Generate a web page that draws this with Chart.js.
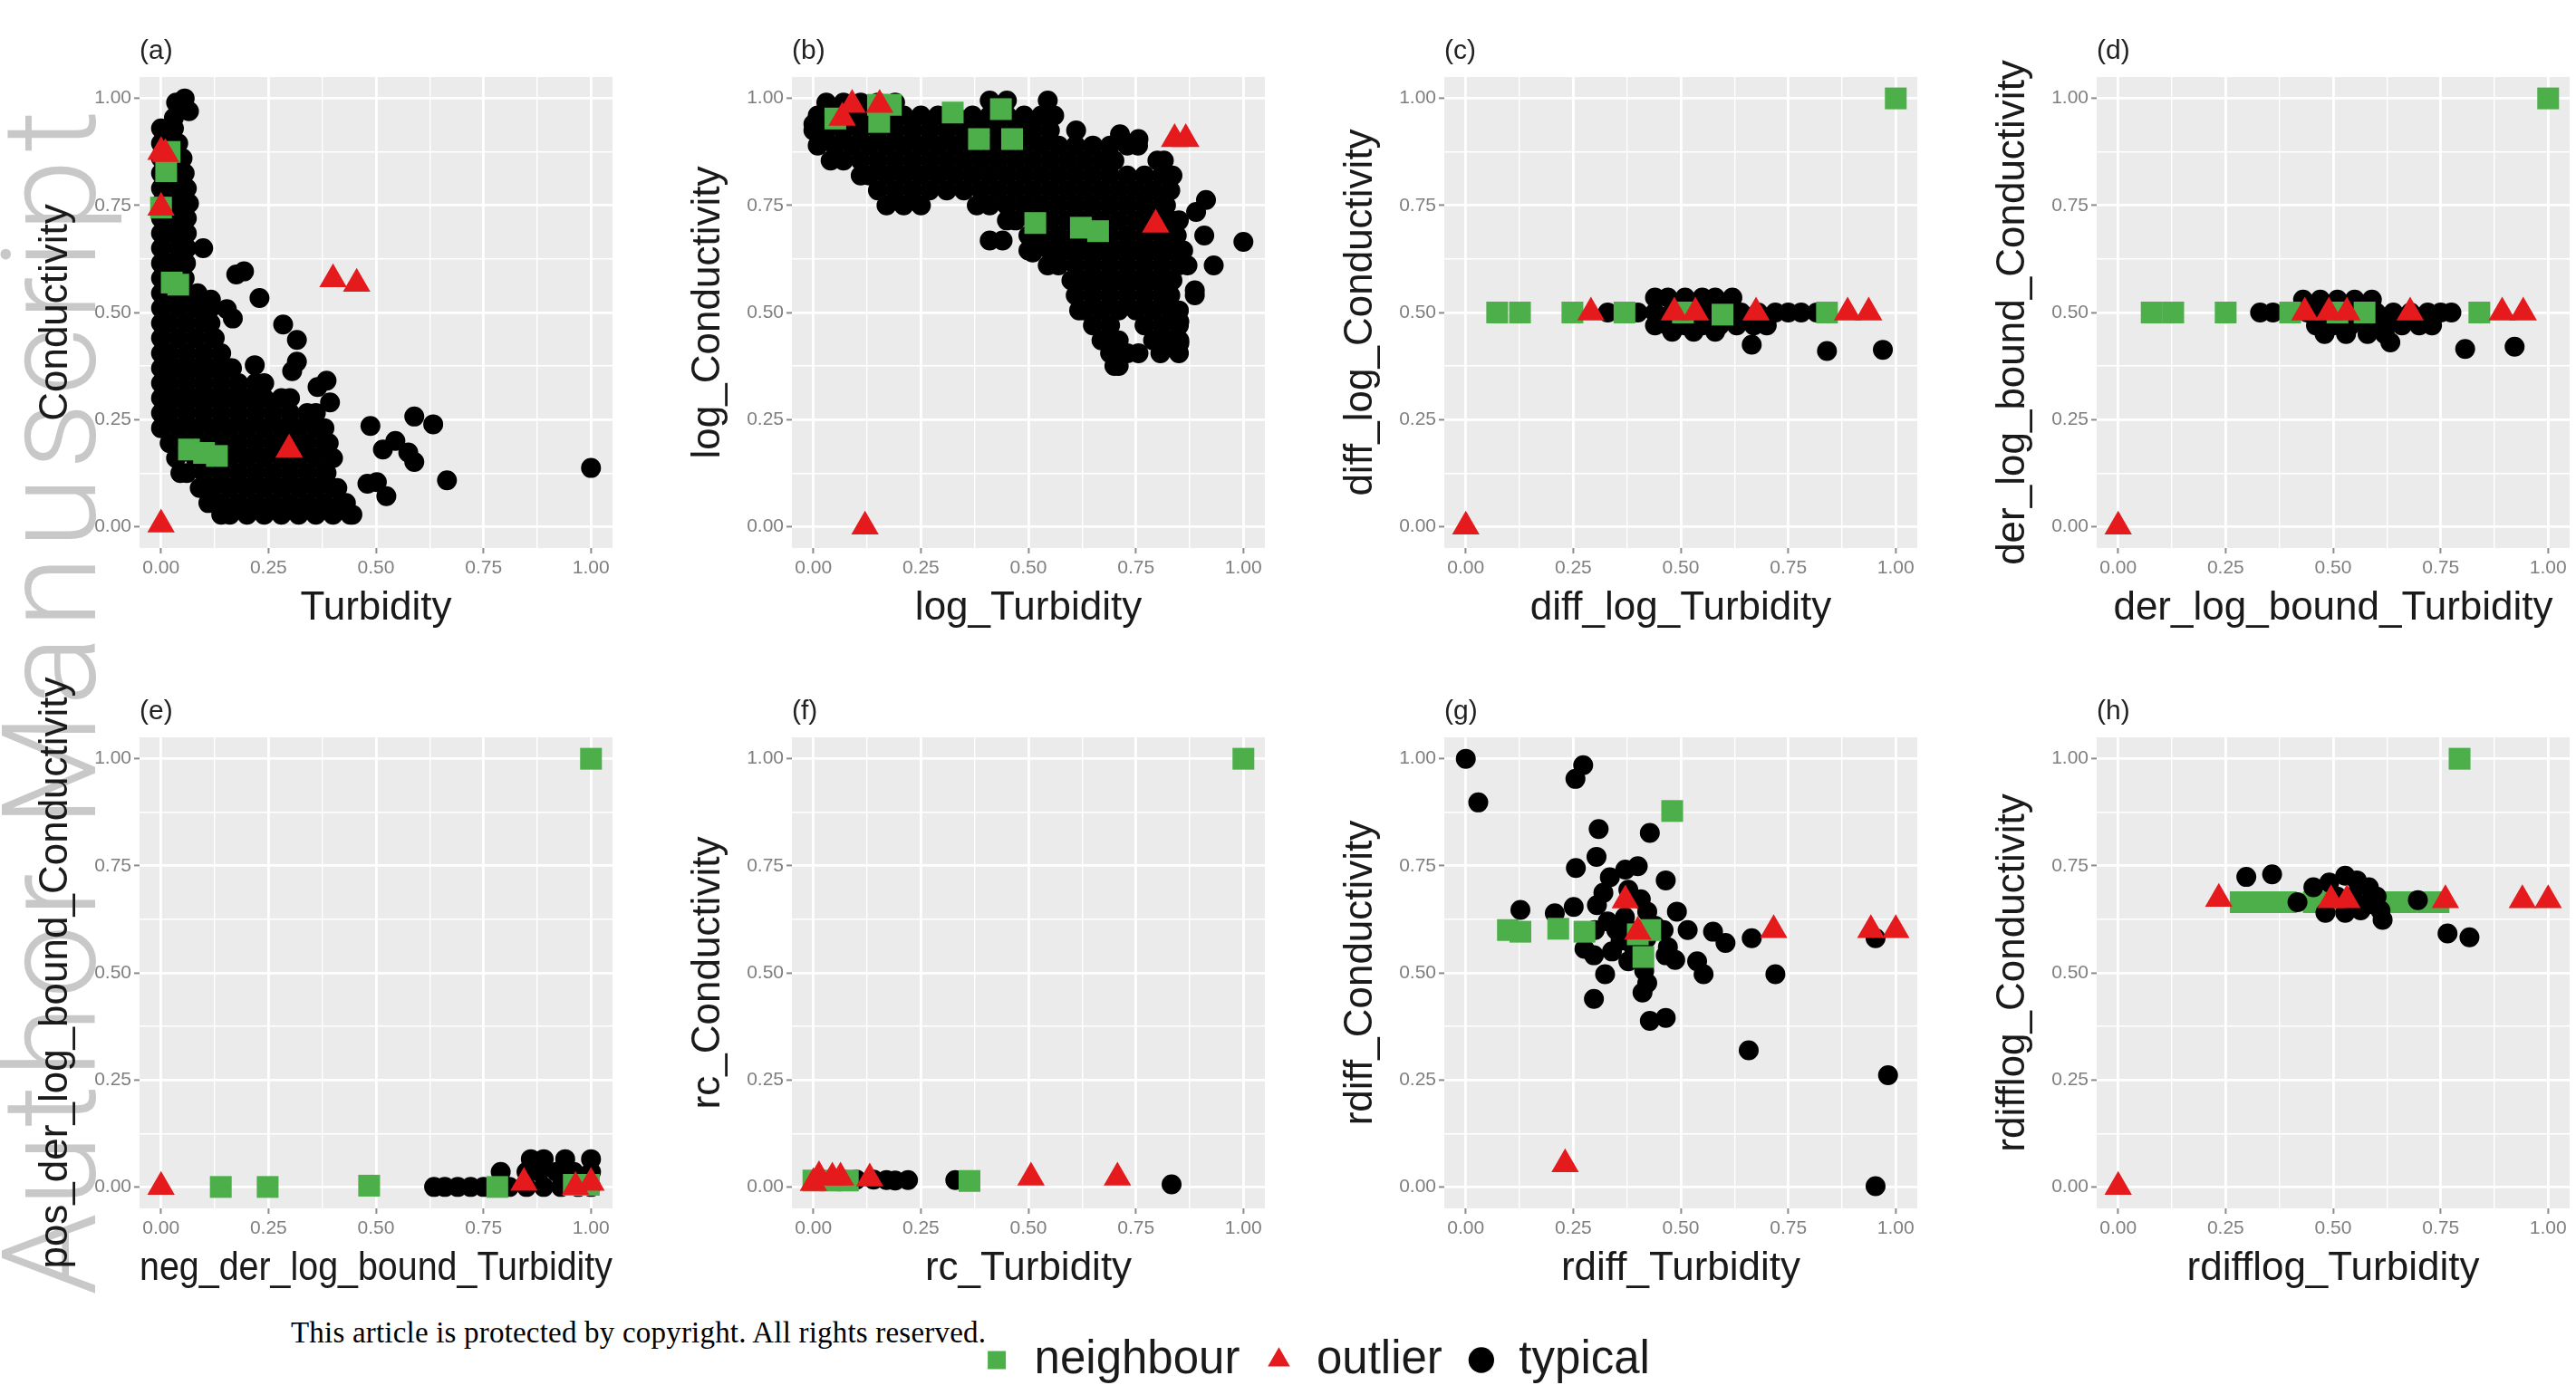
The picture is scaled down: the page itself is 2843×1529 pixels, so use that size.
<!DOCTYPE html>
<html>
<head>
<meta charset="utf-8">
<title>Turbidity / Conductivity feature spaces</title>
<script src="https://cdn.jsdelivr.net/npm/chart.js@4.4.1/dist/chart.umd.min.js"></script>
<style>
  html, body { margin: 0; padding: 0; background: #fff; }
  body { width: 2843px; height: 1529px; position: relative; overflow: hidden; }
  canvas { position: absolute; }
  #watermark { position: absolute; left: 0; top: 0; white-space: nowrap;
    font-family: Roboto, 'Liberation Sans', sans-serif; font-weight: 300;
    font-size: 145px; line-height: 145px; letter-spacing: 8px; color: #c8c8c8;
    transform-origin: 0 0; transform: translate(-17px, 1430px) rotate(-90deg); }
  #footer { position: absolute; left: 321px; top: 1455px; white-space: nowrap;
    font-family: 'Liberation Serif', 'Times New Roman', serif; font-size: 33px; line-height: 33px;
    letter-spacing: 0.2px; color: #000; }
</style>
</head>
<body>
<div id="watermark">Author Manuscript</div>
<div id="footer">This article is protected by copyright. All rights reserved.</div>
<canvas id="c_a" width="700" height="700"></canvas>
<canvas id="c_b" width="700" height="700"></canvas>
<canvas id="c_c" width="700" height="700"></canvas>
<canvas id="c_d" width="700" height="700"></canvas>
<canvas id="c_e" width="700" height="700"></canvas>
<canvas id="c_f" width="700" height="700"></canvas>
<canvas id="c_g" width="700" height="700"></canvas>
<canvas id="c_h" width="700" height="700"></canvas>
<canvas id="legend" width="2843" height="300"></canvas>
<script>
// ---------------------------------- ticks
var majorTicks = [0, 0.25, 0.5, 0.75, 1];
var minorTicks = [0.125, 0.375, 0.625, 0.875];

// ---------------------------------- (a) Turbidity vs Conductivity
// rows: [y, x, x, ...]
var aTypicalRows = [
  [0.93, 0, 0.03],
  [0.895, 0, 0.02, 0.04],
  [0.86, 0, 0.04, 0.05],
  [0.825, 0, 0.02, 0.055],
  [0.79, 0, 0.04, 0.06],
  [0.755, 0, 0.02, 0.06, 0.065],
  [0.72, 0, 0.04, 0.06],
  [0.685, 0, 0.02, 0.06],
  [0.65, 0, 0.04, 0.06, 0.098],
  [0.615, 0, 0.02, 0.058],
  [0.58, 0, 0.04, 0.055],
  [0.545, 0, 0.02, 0.06, 0.085],
  [0.51, 0, 0.04, 0.08, 0.115],
  [0.475, 0, 0.02, 0.06, 0.10, 0.115],
  [0.44, 0, 0.04, 0.08, 0.12, 0.125],
  [0.405, 0, 0.02, 0.06, 0.10, 0.14],
  [0.37, 0, 0.04, 0.08, 0.12, 0.16, 0.165],
  [0.335, 0, 0.02, 0.06, 0.10, 0.14, 0.18, 0.22, 0.24],
  [0.30, 0, 0.04, 0.08, 0.12, 0.16, 0.20, 0.24, 0.28, 0.30],
  [0.265, 0, 0.02, 0.06, 0.10, 0.14, 0.18, 0.22, 0.26, 0.30, 0.34, 0.36],
  [0.23, 0, 0.04, 0.08, 0.12, 0.16, 0.20, 0.24, 0.28, 0.32, 0.36, 0.38],
  [0.195, 0.02, 0.06, 0.10, 0.14, 0.18, 0.22, 0.26, 0.30, 0.34, 0.38, 0.39],
  [0.16, 0.035, 0.08, 0.12, 0.16, 0.20, 0.24, 0.28, 0.32, 0.36, 0.40],
  [0.125, 0.045, 0.06, 0.10, 0.14, 0.18, 0.22, 0.26, 0.30, 0.34, 0.38, 0.385],
  [0.09, 0.09, 0.12, 0.16, 0.20, 0.24, 0.28, 0.32, 0.36, 0.40, 0.41],
  [0.055, 0.11, 0.14, 0.18, 0.22, 0.26, 0.30, 0.34, 0.38, 0.42, 0.43],
  [0.028, 0.14, 0.16, 0.20, 0.24, 0.28, 0.32, 0.36, 0.40, 0.44, 0.445]
];
var aTypicalExtra = [
  [0.035, 0.99], [0.055, 1.0], [0.065, 0.97], [0.03, 0.955],
  [0.116, 0.53], [0.153, 0.508], [0.167, 0.486],
  [0.175, 0.589], [0.193, 0.596], [0.229, 0.534],
  [0.284, 0.472], [0.316, 0.436], [0.316, 0.385], [0.305, 0.363], [0.218, 0.377],
  [0.385, 0.341], [0.364, 0.326], [0.393, 0.29],
  [0.487, 0.235], [0.589, 0.257], [0.633, 0.239],
  [0.545, 0.2], [0.516, 0.18], [0.575, 0.173], [0.589, 0.151],
  [0.48, 0.1], [0.502, 0.104], [0.524, 0.071],
  [0.665, 0.108], [1.0, 0.137]
];
var aNeighbour = [[0.02, 0.875], [0.012, 0.83], [0.0, 0.745], [0.025, 0.57], [0.04, 0.565],
  [0.065, 0.18], [0.1, 0.172], [0.13, 0.165]];
var aOutlier = [[0.0, 0.875], [0.01, 0.87], [0.0, 0.745], [0.298, 0.18], [0.4, 0.578], [0.455, 0.567], [0.0, 0.005]];

// ---------------------------------- (b) log_Turbidity vs log_Conductivity
var bTypicalRows = [
  [0.995, 0.41, 0.45, 0.545],
  [0.99, 0.03, 0.07, 0.11, 0.15, 0.19],
  [0.96, 0.01, 0.05, 0.09, 0.13, 0.17, 0.21, 0.25, 0.29, 0.33, 0.37, 0.41, 0.45, 0.49, 0.53, 0.56],
  [0.925, 0, 0.03, 0.07, 0.11, 0.15, 0.19, 0.23, 0.27, 0.31, 0.35, 0.39, 0.43, 0.47, 0.51, 0.55, 0.611],
  [0.89, 0.01, 0.05, 0.09, 0.13, 0.17, 0.21, 0.25, 0.29, 0.33, 0.37, 0.41, 0.45, 0.49, 0.53, 0.57, 0.61, 0.65, 0.69, 0.73, 0.755],
  [0.855, 0.04, 0.07, 0.11, 0.15, 0.19, 0.23, 0.27, 0.31, 0.35, 0.39, 0.43, 0.47, 0.51, 0.55, 0.59, 0.63, 0.67, 0.70, 0.80, 0.815],
  [0.82, 0.11, 0.13, 0.17, 0.21, 0.25, 0.29, 0.33, 0.37, 0.41, 0.45, 0.49, 0.53, 0.57, 0.61, 0.65, 0.69, 0.73, 0.77, 0.81, 0.835],
  [0.785, 0.15, 0.19, 0.23, 0.27, 0.31, 0.35, 0.39, 0.43, 0.47, 0.51, 0.55, 0.59, 0.63, 0.67, 0.71, 0.75, 0.79, 0.83],
  [0.75, 0.17, 0.21, 0.25, 0.38, 0.41, 0.45, 0.49, 0.53, 0.57, 0.61, 0.65, 0.69, 0.73, 0.77, 0.81, 0.82],
  [0.715, 0.45, 0.47, 0.51, 0.55, 0.59, 0.63, 0.67, 0.71, 0.75, 0.79, 0.83, 0.85],
  [0.68, 0.50, 0.53, 0.57, 0.61, 0.65, 0.69, 0.73, 0.77, 0.81, 0.845, 0.909],
  [0.645, 0.50, 0.51, 0.55, 0.59, 0.63, 0.67, 0.71, 0.75, 0.79, 0.83, 0.86],
  [0.61, 0.545, 0.57, 0.61, 0.65, 0.69, 0.73, 0.77, 0.81, 0.85, 0.87, 0.931],
  [0.575, 0.60, 0.63, 0.67, 0.71, 0.75, 0.79, 0.83, 0.835],
  [0.54, 0.61, 0.65, 0.69, 0.73, 0.77, 0.81, 0.83, 0.887],
  [0.505, 0.618, 0.63, 0.67, 0.71, 0.75, 0.79, 0.83, 0.85],
  [0.47, 0.65, 0.69, 0.77, 0.81, 0.85],
  [0.435, 0.67, 0.71, 0.79, 0.83, 0.851],
  [0.405, 0.69, 0.73, 0.756, 0.807, 0.85],
  [0.375, 0.70, 0.71]
];
var bTypicalExtra = [[0.713, 0.916], [0.756, 0.905], [0.913, 0.763], [0.89, 0.735], [0.41, 0.668], [0.44, 0.668],
  [1.0, 0.665], [0.851, 0.479], [0.851, 0.428], [0.887, 0.552], [0.0, 0.94], [0.51, 0.64]];
var bNeighbour = [[0.051, 0.953], [0.153, 0.945], [0.15, 0.985], [0.18, 0.985], [0.324, 0.967], [0.436, 0.975],
  [0.385, 0.905], [0.462, 0.905], [0.516, 0.709], [0.622, 0.698], [0.662, 0.69]];
var bOutlier = [[0.067, 0.955], [0.09, 0.985], [0.154, 0.985], [0.84, 0.905], [0.866, 0.905], [0.796, 0.705], [0.12, 0.0]];

// ---------------------------------- (c) diff_log
var cTypicalRows = [
  [0.535, 0.44, 0.47, 0.51, 0.55, 0.58, 0.62],
  [0.50, 0.33, 0.36, 0.40, 0.44, 0.48, 0.52, 0.56, 0.60, 0.64, 0.68, 0.72, 0.75, 0.78, 0.816],
  [0.47, 0.44, 0.47, 0.51, 0.55, 0.59, 0.63, 0.67, 0.70],
  [0.455, 0.48, 0.53, 0.58]
];
var cTypicalExtra = [[0.665, 0.425], [0.84, 0.41], [0.97, 0.413]];
var cNeighbour = [[1.0, 1.0], [0.073, 0.5], [0.126, 0.5], [0.248, 0.5], [0.369, 0.5], [0.505, 0.5], [0.597, 0.495], [0.84, 0.5]];
var cOutlier = [[0.0, 0.0], [0.291, 0.5], [0.485, 0.5], [0.534, 0.5], [0.675, 0.5], [0.888, 0.5], [0.937, 0.5]];

// ---------------------------------- (d) der_log_bound
var dTypicalRows = [
  [0.53, 0.43, 0.47, 0.51, 0.55, 0.59],
  [0.50, 0.33, 0.36, 0.40, 0.44, 0.48, 0.52, 0.56, 0.60, 0.64, 0.68, 0.72, 0.75, 0.775],
  [0.47, 0.46, 0.50, 0.54, 0.58, 0.62, 0.66, 0.70, 0.73],
  [0.45, 0.48, 0.53, 0.58, 0.62]
];
var dTypicalExtra = [[0.633, 0.43], [0.807, 0.415], [0.922, 0.42]];
var dNeighbour = [[1.0, 1.0], [0.078, 0.5], [0.128, 0.5], [0.25, 0.5], [0.40, 0.5], [0.51, 0.5], [0.573, 0.5], [0.84, 0.5]];
var dOutlier = [[0.0, 0.0], [0.434, 0.5], [0.49, 0.5], [0.532, 0.5], [0.679, 0.5], [0.893, 0.5], [0.942, 0.5]];

// ---------------------------------- (e) neg_der / pos_der
var eTypicalRows = [
  [0.065, 0.86, 0.89, 0.94, 1.0],
  [0.035, 0.79, 0.85, 0.88, 0.92, 0.96, 1.0],
  [0.0, 0.635, 0.66, 0.69, 0.72, 0.75, 0.78, 0.81, 0.85, 0.89, 0.93, 0.97, 1.0]
];
var eNeighbour = [[1.0, 1.0], [0.139, 0.0], [0.248, 0.0], [0.484, 0.003], [0.782, 0.0], [0.96, 0.005], [0.995, 0.005]];
var eOutlier = [[0.0, 0.0], [0.844, 0.01], [0.964, 0.0], [1.0, 0.01]];

// ---------------------------------- (f) rc
var fTypical = [[0.07, 0.017], [0.10, 0.017], [0.14, 0.017], [0.17, 0.016], [0.19, 0.015], [0.22, 0.016], [0.33, 0.016], [0.833, 0.006]];
var fNeighbour = [[1.0, 1.0], [0.363, 0.014], [0.0, 0.015], [0.04, 0.015], [0.08, 0.015]];
var fOutlier = [[0.0, 0.009], [0.013, 0.025], [0.044, 0.022], [0.063, 0.022], [0.131, 0.02], [0.506, 0.022], [0.707, 0.022]];

// ---------------------------------- (g) rdiff
var gTypical = [
  [0.0, 1.0], [0.029, 0.898], [0.273, 0.985], [0.255, 0.953], [0.309, 0.836], [0.428, 0.827], [0.304, 0.771],
  [0.256, 0.745], [0.465, 0.716], [0.335, 0.723], [0.371, 0.741], [0.4, 0.749], [0.32, 0.687], [0.305, 0.658],
  [0.127, 0.647], [0.207, 0.639], [0.251, 0.654], [0.491, 0.643], [0.378, 0.694], [0.407, 0.672], [0.422, 0.643],
  [0.33, 0.62], [0.35, 0.60], [0.37, 0.63], [0.36, 0.575], [0.39, 0.56], [0.42, 0.58], [0.44, 0.61], [0.34, 0.55],
  [0.38, 0.6], [0.46, 0.6], [0.47, 0.56], [0.3, 0.6],
  [0.516, 0.6], [0.575, 0.596], [0.604, 0.57], [0.665, 0.581], [0.276, 0.556], [0.298, 0.541], [0.465, 0.541],
  [0.487, 0.53], [0.538, 0.527], [0.553, 0.497], [0.324, 0.497], [0.378, 0.527], [0.415, 0.505], [0.422, 0.476],
  [0.411, 0.454], [0.298, 0.439], [0.428, 0.388], [0.465, 0.395], [0.658, 0.319], [0.72, 0.497], [0.982, 0.261],
  [0.953, 0.002], [0.953, 0.581]
];
var gNeighbour = [[0.48, 0.878], [0.098, 0.6], [0.127, 0.596], [0.215, 0.603], [0.276, 0.596], [0.429, 0.6], [0.413, 0.537], [0.40, 0.59]];
var gOutlier = [[0.371, 0.669], [0.4, 0.596], [0.716, 0.6], [0.942, 0.6], [1.0, 0.6], [0.231, 0.053]];

// ---------------------------------- (h) rdifflog
var hTypical = [[0.298, 0.724], [0.358, 0.73], [0.454, 0.7], [0.491, 0.711], [0.528, 0.727], [0.555, 0.716], [0.583, 0.7],
  [0.601, 0.678], [0.61, 0.646], [0.615, 0.624], [0.564, 0.646], [0.528, 0.64], [0.482, 0.64], [0.509, 0.678],
  [0.546, 0.678], [0.58, 0.66], [0.766, 0.592], [0.817, 0.583], [0.417, 0.665], [0.697, 0.67]];
var hNeighbour = [[0.794, 1.0], [0.285, 0.665], [0.32, 0.665], [0.355, 0.665], [0.39, 0.665], [0.455, 0.665], [0.49, 0.665],
  [0.53, 0.665], [0.64, 0.665], [0.67, 0.665], [0.72, 0.665], [0.745, 0.665]];
var hOutlier = [[0.0, 0.0], [0.234, 0.673], [0.495, 0.67], [0.532, 0.67], [0.761, 0.67], [0.94, 0.67], [1.0, 0.67]];

// ---------------------------------- helpers
var GREEN = '#4daf4a', RED = '#e41a1c', BLACK = '#000000';

function rowsToPts(rows){
    var out = [];
    rows.forEach(function(r){
        for(var i = 1; i < r.length; i++){ out.push({x: r[i], y: r[0]}); }
    });
    return out;
}
function pairsToPts(list){
    return list.map(function(p){ return {x: p[0], y: p[1]}; });
}
function isMajor(v){ return majorTicks.indexOf(v) >= 0; }

Chart.defaults.font.family = "'Liberation Sans', Arial, Helvetica, sans-serif";

// grey panel behind the grid
var panelBg = {
    id: 'panelBg',
    beforeDraw: function(chart){
        var a = chart.chartArea;
        if(!a){ return; }
        var ctx = chart.ctx;
        ctx.save();
        ctx.fillStyle = '#ebebeb';
        ctx.fillRect(a.left, a.top, a.right - a.left, a.bottom - a.top);
        ctx.restore();
    }
};

function axisOpts(title, isY){
    return {
        type: 'linear', min: -0.05, max: 1.05,
        afterBuildTicks: function(s){
            s.ticks = majorTicks.concat(minorTicks).sort(function(p, q){ return p - q; })
                .map(function(v){ return {value: v}; });
        },
        afterFit: function(s){
            if(isY){ s.width = 154; } else { s.height = 95; }
        },
        border: {display: false},
        grid: {
            color: '#ffffff',
            lineWidth: function(c){ return (c.tick && isMajor(c.tick.value)) ? 2.8 : 1.4; },
            tickColor: function(c){ return (c.tick && isMajor(c.tick.value)) ? '#8c8c8c' : 'rgba(0,0,0,0)'; },
            tickLength: 6,
            tickWidth: 2
        },
        ticks: {
            autoSkip: false, maxRotation: 0, minRotation: 0,
            padding: isY ? 3 : 4,
            color: '#7f7f7f',
            font: {size: 21},
            callback: function(v){ return isMajor(v) ? v.toFixed(2) : ''; }
        },
        title: {
            display: true, text: title, color: '#1a1a1a',
            font: {size: 44},
            padding: isY ? {top: 35, bottom: 0} : {top: 0, bottom: 2}
        }
    };
}

var panels = [
    {id: 'c_a', tag: '(a)', xTitle: 'Turbidity', yTitle: 'Conductivity',
     typical: rowsToPts(aTypicalRows).concat(pairsToPts(aTypicalExtra)), neighbour: pairsToPts(aNeighbour), outlier: pairsToPts(aOutlier)},
    {id: 'c_b', tag: '(b)', xTitle: 'log_Turbidity', yTitle: 'log_Conductivity',
     typical: rowsToPts(bTypicalRows).concat(pairsToPts(bTypicalExtra)), neighbour: pairsToPts(bNeighbour), outlier: pairsToPts(bOutlier)},
    {id: 'c_c', tag: '(c)', xTitle: 'diff_log_Turbidity', yTitle: 'diff_log_Conductivity',
     typical: rowsToPts(cTypicalRows).concat(pairsToPts(cTypicalExtra)), neighbour: pairsToPts(cNeighbour), outlier: pairsToPts(cOutlier)},
    {id: 'c_d', tag: '(d)', xTitle: 'der_log_bound_Turbidity', yTitle: 'der_log_bound_Conductivity',
     typical: rowsToPts(dTypicalRows).concat(pairsToPts(dTypicalExtra)), neighbour: pairsToPts(dNeighbour), outlier: pairsToPts(dOutlier)},
    {id: 'c_e', tag: '(e)', xTitle: 'neg_der_log_bound_Turbidity', yTitle: 'pos_der_log_bound_Conductivity',
     typical: rowsToPts(eTypicalRows), neighbour: pairsToPts(eNeighbour), outlier: pairsToPts(eOutlier)},
    {id: 'c_f', tag: '(f)', xTitle: 'rc_Turbidity', yTitle: 'rc_Conductivity',
     typical: pairsToPts(fTypical), neighbour: pairsToPts(fNeighbour), outlier: pairsToPts(fOutlier)},
    {id: 'c_g', tag: '(g)', xTitle: 'rdiff_Turbidity', yTitle: 'rdiff_Conductivity',
     typical: pairsToPts(gTypical), neighbour: pairsToPts(gNeighbour), outlier: pairsToPts(gOutlier)},
    {id: 'c_h', tag: '(h)', xTitle: 'rdifflog_Turbidity', yTitle: 'rdifflog_Conductivity',
     typical: pairsToPts(hTypical), neighbour: pairsToPts(hNeighbour), outlier: pairsToPts(hOutlier), typicalOnTop: true}
];

// ---------------------------------- draw the 8 panels
panels.forEach(function(p, i){
    var cv = document.getElementById(p.id);
    cv.style.left = ((i % 4) * 720) + 'px';
    cv.style.top = (Math.floor(i / 4) * 729) + 'px';
    new Chart(cv, {
        type: 'scatter',
        data: {datasets: [
            {label: 'outlier', data: p.outlier, pointStyle: 'triangle', pointRadius: 17.5,
             backgroundColor: RED, borderColor: RED, borderWidth: 0, order: 0},
            {label: 'neighbour', data: p.neighbour, pointStyle: 'rect', pointRadius: 17,
             backgroundColor: GREEN, borderColor: GREEN, borderWidth: 0, order: p.typicalOnTop ? 2 : 1},
            // thin black rim closes the tiny gaps inside the dense clouds
            {label: 'typical', data: p.typical, pointStyle: 'circle', pointRadius: 10,
             backgroundColor: BLACK, borderColor: BLACK, borderWidth: 2, order: p.typicalOnTop ? 1 : 2}
        ]},
        options: {
            responsive: false, animation: false, events: [],
            layout: {padding: {left: 0, right: 24, top: 0, bottom: 0}},
            scales: {x: axisOpts(p.xTitle, false), y: axisOpts(p.yTitle, true)},
            plugins: {
                legend: {display: false},
                tooltip: {enabled: false},
                title: {display: true, text: p.tag, align: 'start', fullSize: false, color: '#222222',
                        font: {size: 30, weight: 'normal'}, padding: {top: 38.6, bottom: 10.4}}
            }
        },
        plugins: [panelBg]
    });
});

// ---------------------------------- shared legend at the bottom
var lg = document.getElementById('legend');
lg.style.left = '31px';
lg.style.top = '1449px';
new Chart(lg, {
    type: 'scatter',
    data: {datasets: [
        {label: 'neighbour', data: [], pointStyle: 'rect', backgroundColor: GREEN, borderColor: GREEN, borderWidth: 0},
        {label: 'outlier', data: [], pointStyle: 'triangle', backgroundColor: RED, borderColor: RED, borderWidth: 0},
        {label: 'typical', data: [], pointStyle: 'circle', backgroundColor: BLACK, borderColor: BLACK, borderWidth: 0}
    ]},
    options: {
        responsive: false, animation: false, events: [],
        scales: {x: {display: false}, y: {display: false}},
        plugins: {
            tooltip: {enabled: false},
            legend: {display: true, position: 'top', align: 'center',
                labels: {usePointStyle: true, boxWidth: 32, boxHeight: 20, padding: 27,
                         color: '#1a1a1a', font: {size: 51}}}
        }
    }
});
</script>
</body>
</html>
